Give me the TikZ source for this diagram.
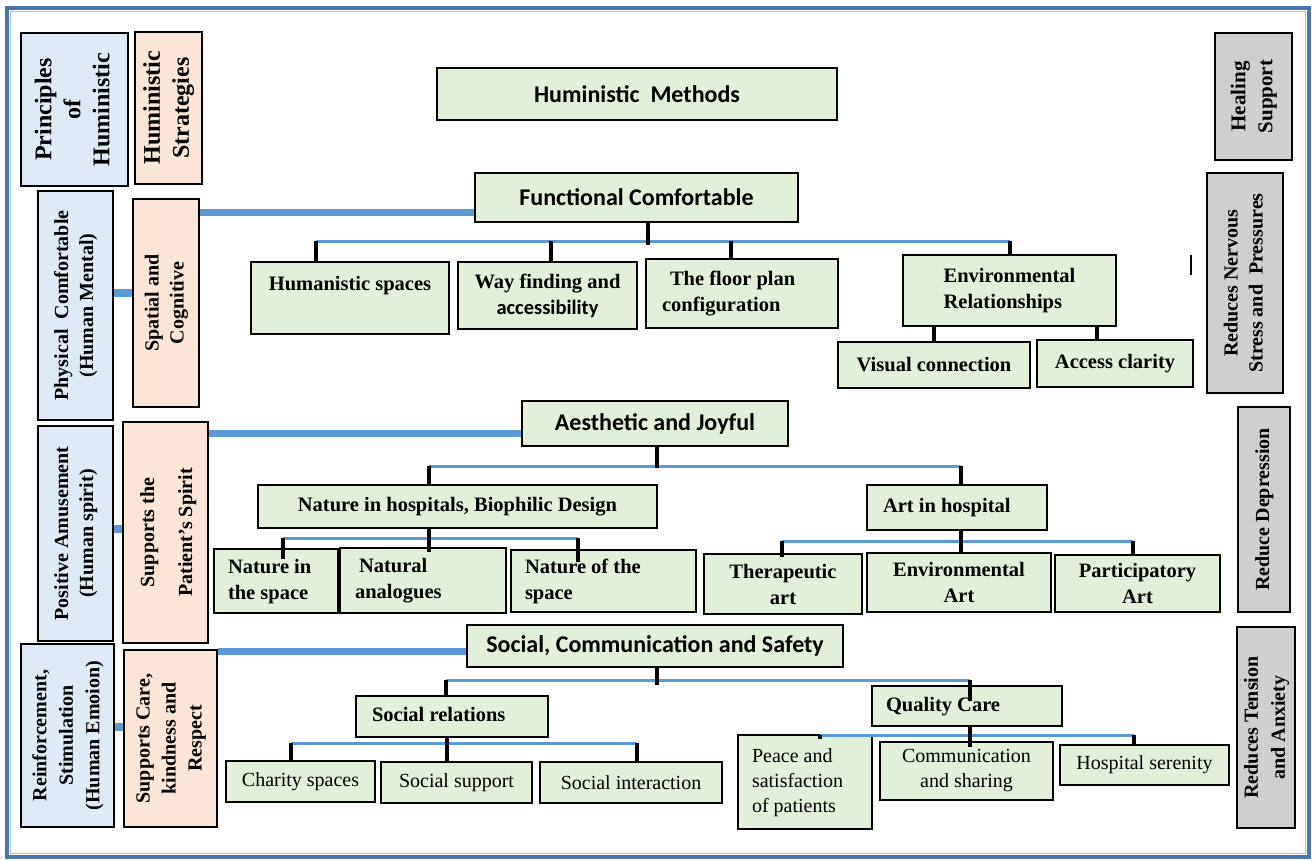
\documentclass[tikz,border=0pt]{standalone}
\usepackage{fontspec}
\setmainfont{Liberation Serif}
\newfontfamily\calfont{Carlito}
\usepackage{graphicx}
\definecolor{bfill}{HTML}{DEEBF7}
\definecolor{pfill}{HTML}{FBE5D6}
\definecolor{gfill}{HTML}{E2F0D9}
\definecolor{gyfill}{HTML}{D0CECE}
\definecolor{lnblue}{HTML}{5B9BD5}
\definecolor{framec}{HTML}{4A76A8}
\definecolor{framel}{HTML}{A9C4E0}
\newcommand\rot[1]{\rotatebox{90}{\begin{tabular}{@{}c@{}}#1\end{tabular}}}
\newcommand\lft[2]{\makebox[#1][l]{\begin{tabular}{@{}l@{}}#2\end{tabular}}}
\newcommand\bx[7][]{%
  \pgfmathsetmacro\bxcx{(#3+#5)/2}%
  \pgfmathsetmacro\bxcy{(#4+#6)/2}%
  \pgfmathsetmacro\bxw{#5-#3}%
  \pgfmathsetmacro\bxh{#6-#4}%
  \node[#1, minimum width=\bxw pt, minimum height=\bxh pt] (#2) at (\bxcx,\bxcy) {#7};}
\tikzset{
  box/.style={draw=black, line width=2.2pt, inner sep=0pt, align=center},
  bluebox/.style={box, fill=bfill},
  peachbox/.style={box, fill=pfill},
  greenbox/.style={box, fill=gfill},
  graybox/.style={box, fill=gyfill},
  bus/.style={draw=lnblue, line width=3pt},
  trunk/.style={draw=lnblue, line width=7pt},
  link/.style={draw=lnblue, line width=8pt},
  stub/.style={draw=black, line width=3.5pt},
  hdfont/.style={font=\fontsize{24}{29}\selectfont\bfseries},
  sdfont/.style={font=\fontsize{20}{25}\selectfont\bfseries},
  cfont/.style={font=\calfont\fontsize{24}{28}\selectfont\bfseries},
  bfont/.style={font=\fontsize{20.5}{26}\selectfont\bfseries},
  rfont/.style={font=\fontsize{20}{25}\selectfont},
}
\begin{document}
\begin{tikzpicture}[x=1pt,y=-1pt]
\useasboundingbox (0,0) rectangle (1316,861);
\fill[white] (0,0) rectangle (1316,861);
\draw[framec, line width=4pt] (7,8) rectangle (1309,857);
\draw[framel, line width=1pt] (10.5,11.5) rectangle (1305.5,853.5);

% left columns
\bx[bluebox, hdfont]{prin}{21}{33}{128}{186}{\rot{Principles\\of\\Huministic}}
\bx[peachbox, hdfont]{strat}{135}{32}{202}{184}{\rot{Huministic\\Strategies}}
\bx[bluebox, sdfont]{phys}{38}{191}{113}{420}{\rot{Physical\ \ Comfortable\\(Human Mental)}}
\bx[peachbox, sdfont]{spat}{133}{199}{199}{407}{\rot{Spatial and\\Cognitive}}
\bx[bluebox, sdfont]{posi}{38}{426}{113}{641}{\rot{Positive Amusement\\(Human spirit)}}
\bx[peachbox, font=\fontsize{20}{38}\selectfont\bfseries]{supp}{123}{422}{208}{643}{\rot{Supports the\\Patient’s Spirit}}
\bx[bluebox, font=\fontsize{20}{26.5}\selectfont\bfseries]{rein}{21}{644}{114}{827}{\rot{Reinforcement,\\Stimulation\\(Human Emoion)}}
\bx[peachbox, font=\fontsize{20}{26}\selectfont\bfseries]{care}{124}{650}{217}{827}{\rot{Supports Care,\\kindness and\\Respect}}

% right column
\bx[graybox, font=\fontsize{21}{27}\selectfont\bfseries]{heal}{1215}{33}{1292}{160}{\rot{Healing\\Support}}
\bx[graybox, sdfont]{nerv}{1207}{173}{1283}{393}{\rot{Reduces Nervous\\Stress and\ \ Pressures}}
\bx[graybox, sdfont]{depr}{1238}{407}{1290}{612}{\rot{Reduce Depression}}
\bx[graybox, font=\fontsize{20}{27}\selectfont\bfseries]{tens}{1237}{627}{1295}{828}{\rot{Reduces Tension\\and Anxiety}}

% left links
\draw[link] (phys.east |- 0,293) -- (spat.west |- 0,293);
\draw[link] (posi.east |- 0,529) -- (supp.west |- 0,529);
\draw[link] (rein.east |- 0,727) -- (care.west |- 0,727);

% tree boxes
\bx[greenbox, cfont]{meth}{437}{68}{837}{120}{Huministic\ \ Methods}
\bx[greenbox, cfont]{func}{475}{173}{798}{222}{Functional Comfortable}
\bx[greenbox, bfont, text height=28pt, text depth=44pt]{hums}{251}{262}{449}{334}{Humanistic spaces}
\bx[greenbox, bfont]{wayf}{458}{262}{637}{329}{Way finding and\\{\calfont accessibility}}
\bx[greenbox, bfont, inner xsep=16pt]{floor}{646}{259}{838}{328}{\lft{160pt}{\hspace*{8pt}The floor plan\\configuration}}
\bx[greenbox, bfont]{envr}{903}{255}{1116}{326}{\begin{tabular}{@{}l@{}}Environmental\\Relationships\end{tabular}}
\bx[greenbox, bfont]{visu}{838}{342}{1030}{388}{Visual connection}
\bx[greenbox, bfont]{acce}{1037}{340}{1193}{387}{Access clarity}

\bx[greenbox, cfont]{aest}{522}{401}{788}{446}{Aesthetic and Joyful}
\bx[greenbox, bfont]{natu}{258}{485}{657}{528}{Nature in hospitals, Biophilic Design}
\bx[greenbox, bfont, inner xsep=14pt]{nspa}{214}{549}{338}{613}{\lft{96pt}{Nature in\\the space}}
\bx[greenbox, bfont, inner xsep=15pt]{nana}{340}{548}{506}{613}{\lft{136pt}{\hspace*{4pt}Natural\\analogues}}
\bx[greenbox, bfont, inner xsep=14pt]{nofs}{511}{550}{696}{612}{\lft{157pt}{Nature of the\\space}}
\bx[greenbox, bfont, inner xsep=16pt]{art}{867}{485}{1047}{530}{\lft{148pt}{Art in hospital}}
\bx[greenbox, bfont]{ther}{704}{554}{862}{614}{Therapeutic\\art}
\bx[greenbox, bfont]{enva}{867}{553}{1051}{612}{Environmental\\Art}
\bx[greenbox, bfont]{part}{1055}{555}{1220}{612}{Participatory\\Art}

\bx[greenbox, cfont]{soci}{467}{625}{843}{667}{Social, Communication and Safety}
\bx[greenbox, bfont, inner xsep=16pt]{srel}{356}{696}{548}{737}{\lft{160pt}{Social relations}}
\bx[greenbox, bfont, inner xsep=14pt]{qual}{872}{686}{1062}{726}{\lft{162pt}{Quality Care}}
\bx[greenbox, rfont]{char}{226}{761}{375}{802}{Charity spaces}
\bx[greenbox, rfont]{ssup}{381}{762}{532}{803}{Social support}
\bx[greenbox, rfont]{sint}{540}{762}{722}{803}{Social interaction}
\bx[greenbox, rfont, inner xsep=14pt]{peac}{738}{735}{872}{829}{\lft{106pt}{Peace and\\satisfaction\\of patients}}
\bx[greenbox, rfont]{comm}{880}{742}{1053}{800}{Communication\\and sharing}
\bx[greenbox, rfont]{hosp}{1060}{745}{1229}{785}{Hospital serenity}

% section 1 connectors
\draw[trunk] (spat.east |- 0,212) -- (func.west |- 0,212);
\coordinate (f1) at (316,241); \coordinate (f2) at (551,241);
\coordinate (f3) at (731,241); \coordinate (f4) at (1010,241);
\draw[bus] (f1) -- (f4);
\draw[stub] (func.south -| 648,0) -- ++(0,22);
\draw[stub] (f1) -- (hums.north -| f1);
\draw[stub] (f2) -- (wayf.north -| f2);
\draw[stub] (f3) -- (floor.north -| f3);
\draw[stub] (f4) -- (envr.north -| f4);
\draw[stub] (envr.south -| 934,0) -- (visu.north -| 934,0);
\draw[stub] (envr.south -| 1097,0) -- (acce.north -| 1097,0);
\draw[line width=1.5pt] (1191,255) -- (1191,275);

% section 2 connectors
\draw[trunk] (supp.east |- 0,433) -- (aest.west |- 0,433);
\coordinate (a1) at (429,466); \coordinate (a2) at (961,466);
\draw[bus] (a1) -- (a2);
\draw[stub] (aest.south -| 657,0) -- ++(0,21);
\draw[stub] (a1) -- (natu.north -| a1);
\draw[stub] (a2) -- (art.north -| a2);
\coordinate (n1) at (283,538); \coordinate (n3) at (578,538);
\draw[bus] (n1) -- (n3);
\draw[stub] (natu.south -| 429,0) -- ([yshift=-5pt]nana.north -| 429,0);
\draw[stub] (n1) -- ([yshift=-11pt]nspa.north -| n1);
\draw[stub] (n3) -- ([yshift=-13pt]nofs.north -| n3);
\coordinate (r1) at (782,541); \coordinate (r3) at (1133,541);
\draw[bus] (r1) -- (r3);
\draw[stub] (art.south -| 961,0) -- (enva.north -| 961,0);
\draw[stub] (r1) -- ([yshift=-4pt]ther.north -| r1);
\draw[stub] (r3) -- (part.north -| r3);

% section 3 connectors
\draw[trunk] (care.east |- 0,651) -- (soci.west |- 0,651);
\coordinate (s1) at (446,680); \coordinate (s2) at (970,680);
\draw[bus] (s1) -- (s2);
\draw[stub] (soci.south -| 657,0) -- ++(0,17);
\draw[stub] (s1) -- (srel.north -| s1);
\draw[stub] (s2) -- ([yshift=-16pt]qual.north -| s2);
\coordinate (c1) at (291,743); \coordinate (c3) at (637,743);
\draw[bus] (c1) -- (c3);
\draw[stub] (srel.south -| 447,0) -- (ssup.north -| 447,0);
\draw[stub] (c1) -- (char.north -| c1);
\draw[stub] (c3) -- (sint.north -| c3);
\coordinate (q1) at (820,735); \coordinate (q3) at (1134,735);
\draw[bus] (q1) -- (q3);
\draw[stub] (qual.south -| 970,0) -- ([yshift=-6pt]comm.north -| 970,0);
\draw[stub] (q1) -- ([yshift=-5pt]peac.north -| q1);
\draw[stub] (q3) -- (hosp.north -| q3);
\end{tikzpicture}
\end{document}
